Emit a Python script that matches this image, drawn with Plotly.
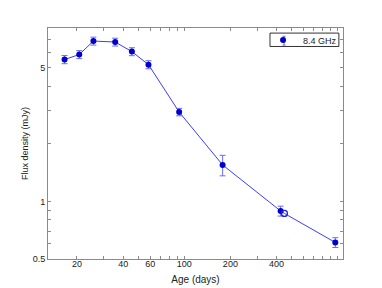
import plotly.graph_objects as go
import numpy as np

# Data
age_days = [16.6, 20.7, 25.6, 35.5, 45.6, 58.5, 92.7, 178, 425, 966]
flux_mjy = [5.51, 5.85, 6.88, 6.80, 6.06, 5.18, 2.93, 1.55, 0.891, 0.61]
flux_err = [0.27, 0.28, 0.33, 0.32, 0.29, 0.25, 0.13, 0.19, 0.053, 0.036]
open_age = [450]
open_flux = [0.865]

line_age = sorted(age_days + open_age)
line_flux = [dict(zip(age_days + open_age, flux_mjy + open_flux))[a] for a in line_age]

x_tickvals = [20, 30, 40, 50, 60, 70, 80, 90, 100, 200, 300, 400, 500, 600, 700, 800, 900, 1000]
x_ticktext = ["20", "", "40", "", "60", "", "", "", "100", "200", "", "400", "", "", "", "", "", ""]
y_tickvals = [0.5, 0.6, 0.7, 0.8, 0.9, 1, 2, 3, 4, 5, 6, 7, 8]
y_ticktext = ["0.5", "", "", "", "", "1", "", "", "", "5", "", "", ""]

ERR_COLOR = "#6a6aff"

fig = go.Figure()
fig.add_trace(go.Scatter(x=line_age, y=line_flux, mode="lines",
                         line=dict(color="#3b3bff", width=1), showlegend=False,
                         hoverinfo="skip"))
fig.add_trace(go.Scatter(x=age_days, y=flux_mjy, mode="markers", name="8.4 GHz",
                         marker=dict(color="#0000c8", size=6, symbol="circle"),
                         error_y=dict(type="data", array=flux_err, color=ERR_COLOR,
                                      thickness=1, width=3)))
fig.add_trace(go.Scatter(x=open_age, y=open_flux, mode="markers", showlegend=False,
                         marker=dict(color="#2020e0", size=6, symbol="circle-open",
                                     line=dict(width=1.3))))

axis_common = dict(showline=True, linecolor="#8a8a8a", linewidth=1, mirror="ticks",
                   ticks="inside", ticklen=3, tickcolor="#8a8a8a", showgrid=False,
                   zeroline=False, tickfont=dict(size=9, color="#222"), automargin=False)
fig.update_xaxes(type="log", range=[np.log10(12.95), np.log10(1084)],
                 tickvals=x_tickvals, ticktext=x_ticktext, ticklabelstandoff=-4,
                 title=dict(text="Age (days)", font=dict(size=10, color="#222"), standoff=8),
                 **axis_common)
fig.update_yaxes(type="log", range=[np.log10(0.5), np.log10(8.05)],
                 tickvals=y_tickvals, ticktext=y_ticktext,
                 title=dict(text="Flux density (mJy)", font=dict(size=9, color="#222"), standoff=2),
                 **axis_common)

# legend frame (compact box like the reference) and its error-bar glyph
fig.add_shape(type="rect", xref="paper", yref="paper", x0=0.7525, x1=0.986, y0=0.92, y1=0.978,
              line=dict(color="#333", width=1), fillcolor="white", layer="below")
fig.add_shape(type="line", xref="paper", yref="paper", x0=0.8, x1=0.8, y0=0.926, y1=0.964,
              line=dict(color=ERR_COLOR, width=1))
for yy in (0.926, 0.964):
    fig.add_shape(type="line", xref="paper", yref="paper", x0=0.795, x1=0.805, y0=yy, y1=yy,
                  line=dict(color=ERR_COLOR, width=1))

fig.update_layout(width=374, height=280, margin=dict(l=40, r=39, t=20, b=29),
                  paper_bgcolor="white", plot_bgcolor="white",
                  font=dict(family="Liberation Sans, Arial, sans-serif"),
                  legend=dict(x=0.729, y=0.948, xanchor="left", yanchor="middle",
                              borderwidth=0, bgcolor="rgba(0,0,0,0)",
                              font=dict(size=9, color="#222"), itemwidth=30,
                              tracegroupgap=0))

fig.write_html("out.html")
